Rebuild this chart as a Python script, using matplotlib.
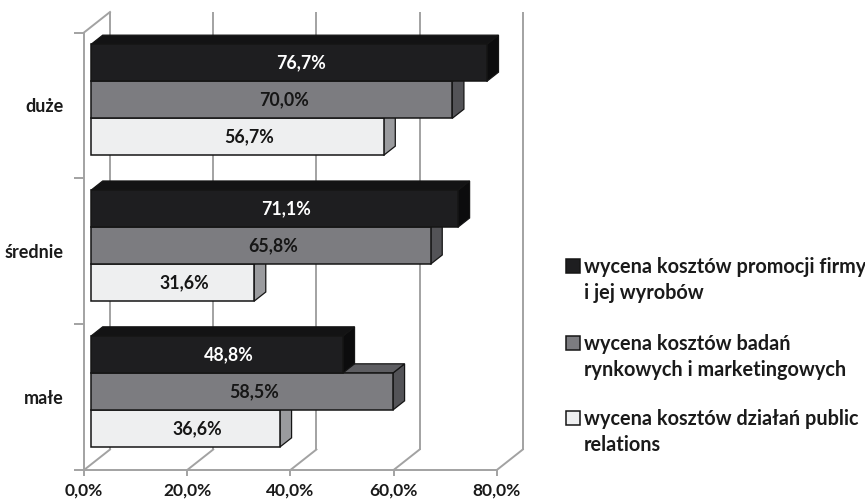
import matplotlib
matplotlib.use("Agg")
import matplotlib.pyplot as plt
from matplotlib.patches import Polygon, Rectangle

# ---- data ----
categories = ["duże", "średnie", "małe"]          # top to bottom
series_names = [
    "wycena kosztów promocji firmy\ni jej wyrobów",
    "wycena kosztów badań\nrynkowych i marketingowych",
    "wycena kosztów działań public\nrelations",
]
promocja = [76.7, 71.1, 48.8]
badania = [70.0, 65.8, 58.5]
public_relations = [56.7, 31.6, 36.6]
x_ticks = [0, 20, 40, 60, 80]
x_tick_labels = ["0,0%", "20,0%", "40,0%", "60,0%", "80,0%"]

series = [promocja, badania, public_relations]
front_colors = ["#1e1e20", "#7c7c80", "#eeeff0"]
top_colors = ["#131314", "#5e5e62", "#c9c9cb"]
side_colors = ["#0c0c0d", "#535357", "#9a9b9e"]
label_colors = ["white", "#161616", "#161616"]

plt.rcParams["font.family"] = ["Lato", "DejaVu Sans"]
plt.rcParams["font.weight"] = "bold"

W, H = 865, 504
fig = plt.figure(figsize=(W / 100, H / 100), dpi=100)
fig.patch.set_facecolor("white")

# front plane of the 3-D box, in pixels
left_px, right_px = 84, 496.8
bottom_px, top_px = 470, 32.5
ax = fig.add_axes([left_px / W, 1 - bottom_px / H,
                   (right_px - left_px) / W, (bottom_px - top_px) / H])
ax.set_xlim(0, 80)
ax.set_ylim(0, 3)
ax.patch.set_visible(False)

px_x = 80 / (right_px - left_px)
px_y = 3 / (bottom_px - top_px)
DX, DY = 26 * px_x, 20.5 * px_y      # depth of the box
F0, BD = 0.27, 0.45                  # bar front position / bar depth (fractions)
bar_h = 37 * px_y

grid_col = "#a2a2a2"
grid_lw = 1.4

# axes lines of the front plane
for side in ("top", "right"):
    ax.spines[side].set_visible(False)
for side in ("left", "bottom"):
    ax.spines[side].set_color(grid_col)
    ax.spines[side].set_linewidth(grid_lw)

ax.set_xticks(x_ticks, x_tick_labels)
ax.tick_params(axis="x", length=4, width=grid_lw, color=grid_col,
               pad=5, labelsize=12.5, labelcolor="#1a1a1a")
ax.set_yticks([0, 1, 2, 3])
ax.set_yticklabels([])
ax.tick_params(axis="y", which="major", length=7, width=grid_lw, color=grid_col)
ax.set_yticks([0.5, 1.5, 2.5], minor=True)
ax.set_yticklabels(categories[::-1], minor=True)
ax.tick_params(axis="y", which="minor", length=0, pad=15,
               labelsize=13, labelcolor="#1a1a1a")

# back wall, floor and left wall edges
for v in x_ticks:
    ax.plot([v + DX, v + DX], [DY, 3 + DY], color=grid_col, lw=grid_lw,
            zorder=1, clip_on=False, solid_capstyle="butt")
    ax.plot([v, v + DX], [0, DY], color=grid_col, lw=grid_lw,
            zorder=1, clip_on=False)
ax.plot([0, DX], [3, 3 + DY], color=grid_col, lw=grid_lw, zorder=1, clip_on=False)

# 3-D bars, drawn from the bottom up so upper faces overlap correctly
x0 = F0 * DX
bdx, bdy = BD * DX, BD * DY
edge = "#151515"
for ci in range(len(categories) - 1, -1, -1):
    band = len(categories) - 1 - ci
    center = band + 0.5 + F0 * DY
    for k in range(len(series) - 1, -1, -1):
        v = series[k][ci]
        y0 = center + (0.5 - k) * bar_h
        y1 = y0 + bar_h
        side = Polygon([(x0 + v, y0), (x0 + v + bdx, y0 + bdy),
                        (x0 + v + bdx, y1 + bdy), (x0 + v, y1)],
                       closed=True, facecolor=side_colors[k], edgecolor=edge,
                       lw=0.9, zorder=3, clip_on=False)
        top = Polygon([(x0, y1), (x0 + v, y1), (x0 + v + bdx, y1 + bdy),
                       (x0 + bdx, y1 + bdy)],
                      closed=True, facecolor=top_colors[k], edgecolor=edge,
                      lw=0.9, zorder=3, clip_on=False)
        front = Rectangle((x0, y0), v, bar_h, facecolor=front_colors[k],
                          edgecolor=edge, lw=1.1, zorder=3, clip_on=False)
        for p in (side, top, front):
            ax.add_patch(p)
        ax.text(x0 + v / 2 + 12 * px_x, y0 + bar_h / 2,
                f"{v:.1f}%".replace(".", ","), ha="center", va="center",
                fontsize=12.8, color=label_colors[k], zorder=5)

# legend
sq = 14
entry_baselines = [273, 349.5, 425]
line_gap = 26
for k, name in enumerate(series_names):
    b = entry_baselines[k]
    fig.add_artist(Rectangle((566 / W, 1 - b / H), sq / W, sq / H,
                             transform=fig.transFigure,
                             facecolor=front_colors[k], edgecolor="#151515",
                             lw=1.1))
    for j, line in enumerate(name.split("\n")):
        fig.text(584 / W, 1 - (b + j * line_gap) / H, line,
                 ha="left", va="baseline", fontsize=14.3, color="#1a1a1a")

fig.savefig("out.png", dpi=100, facecolor="white")
